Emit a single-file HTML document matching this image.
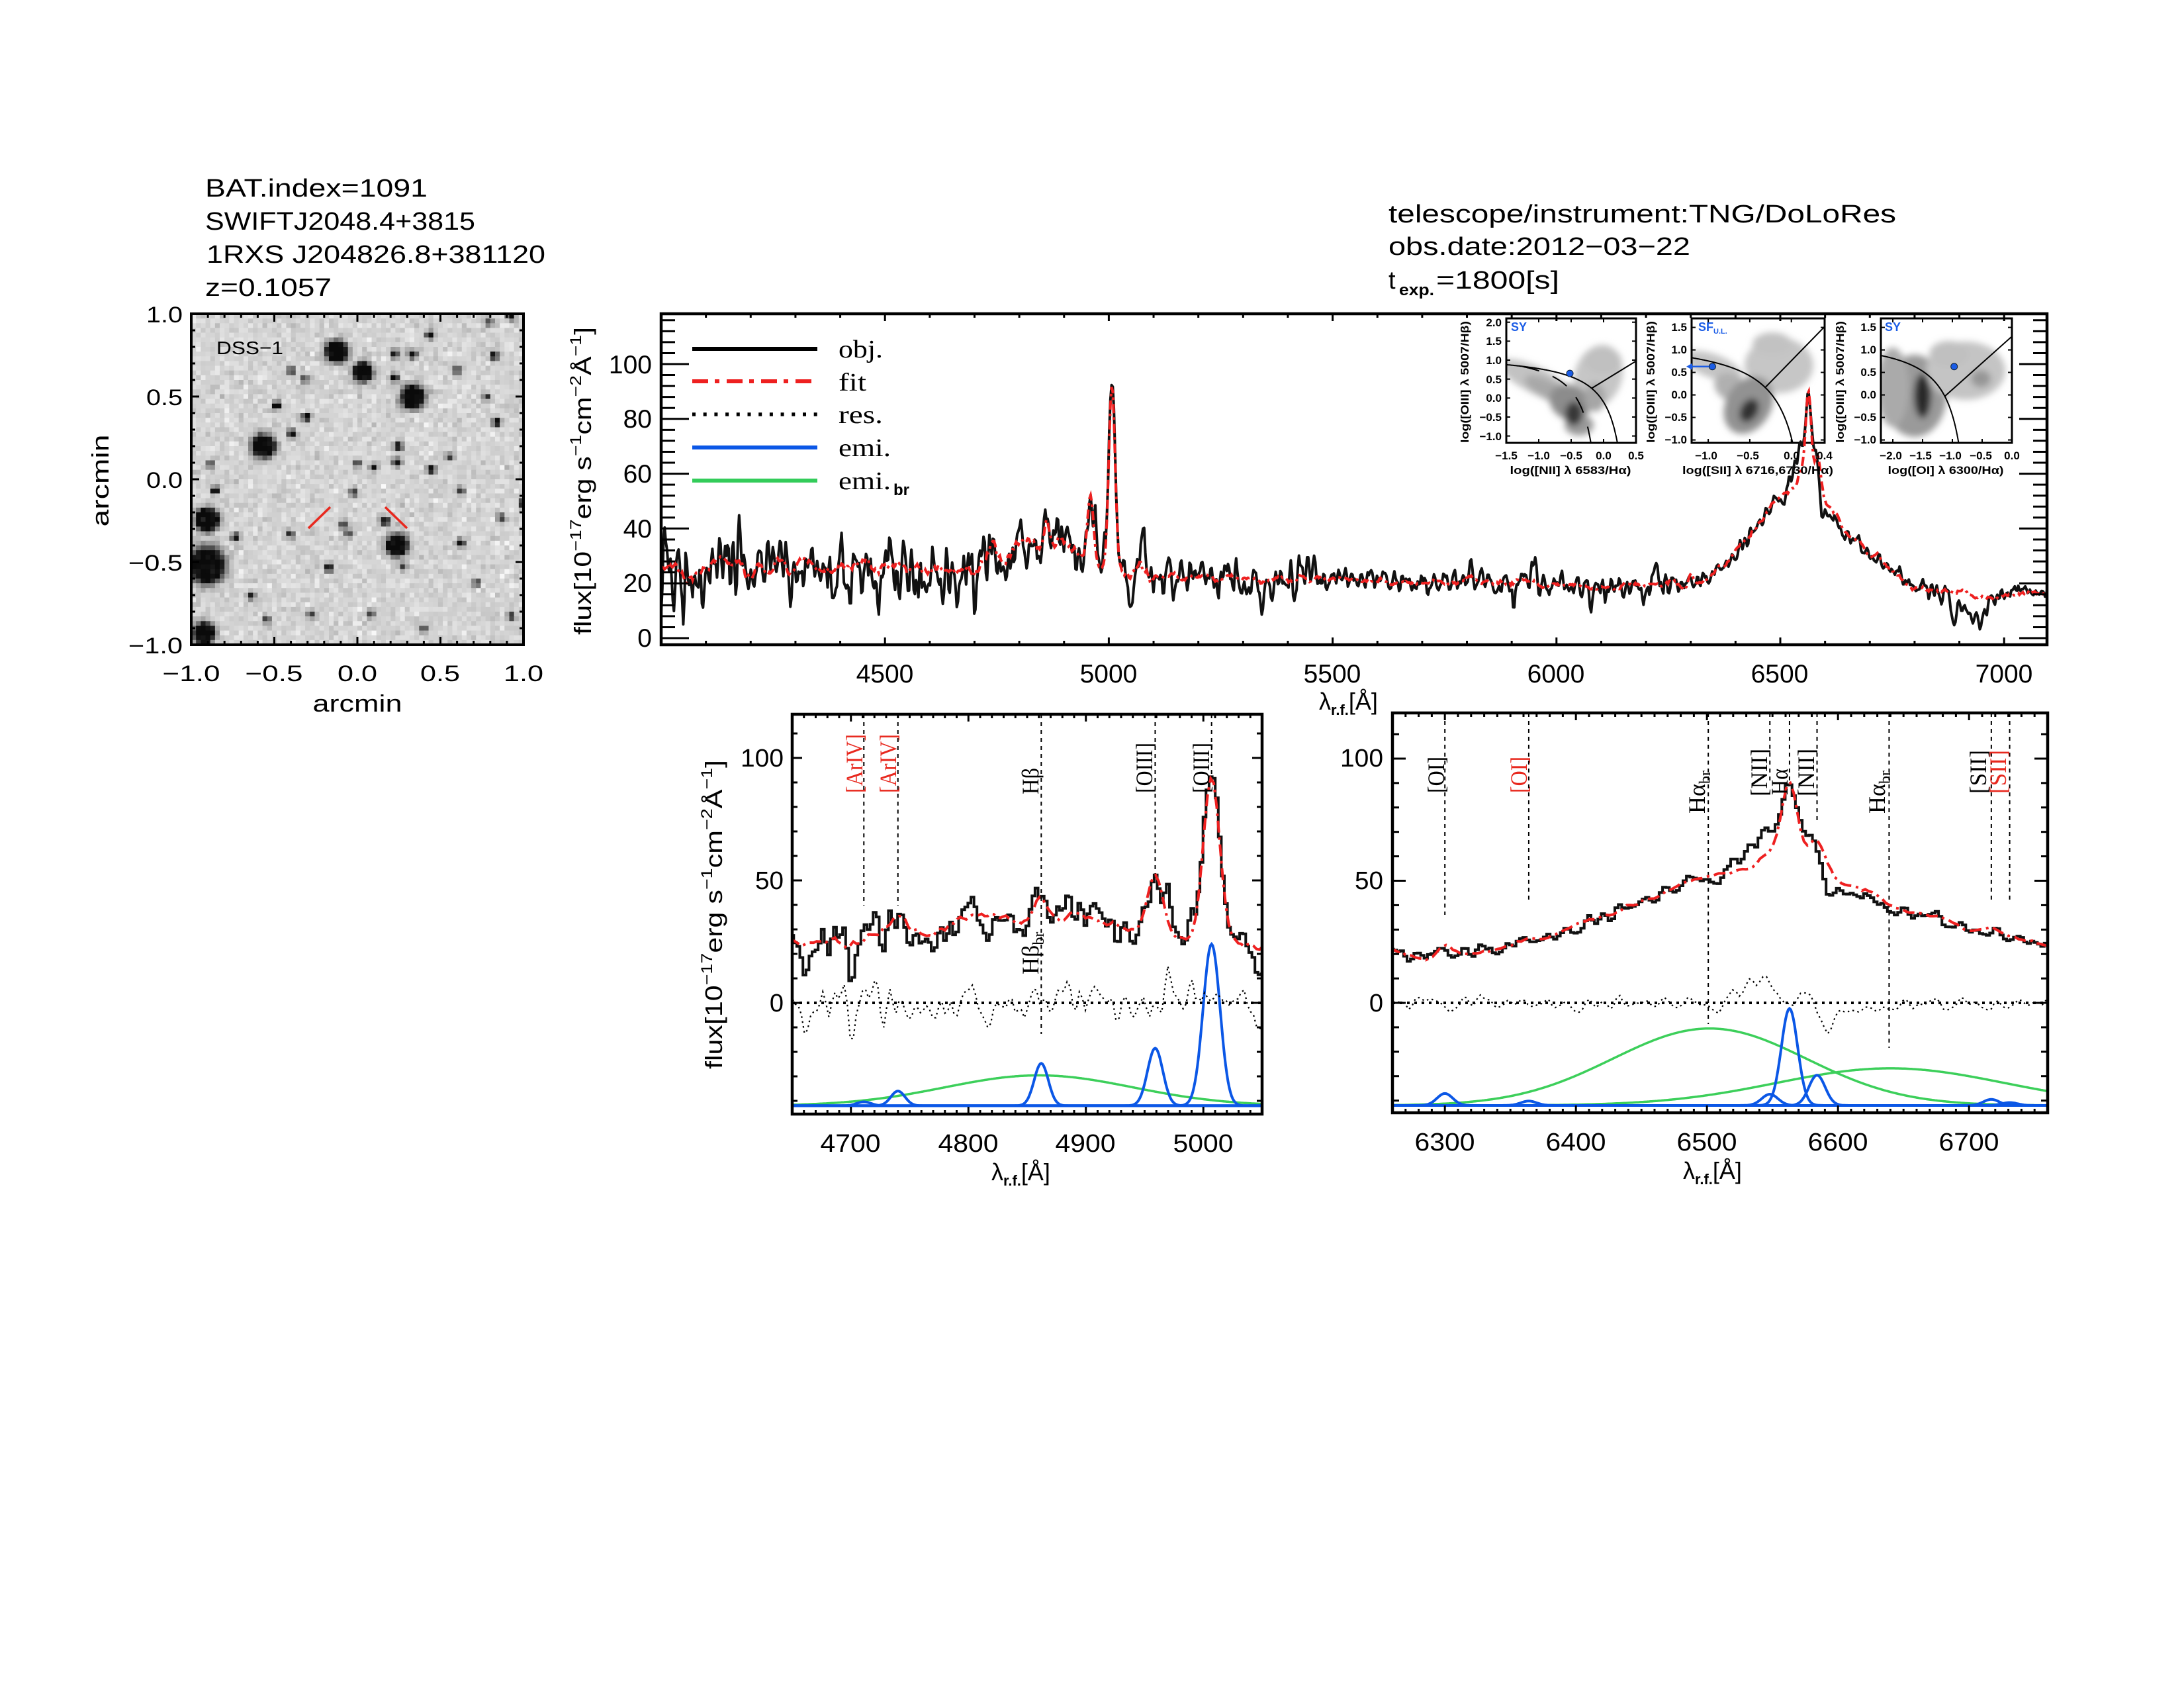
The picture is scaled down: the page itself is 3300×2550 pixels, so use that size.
<!DOCTYPE html>
<html><head><meta charset="utf-8">
<style>
html,body{margin:0;padding:0;background:#fff;}
svg{display:block;}
text{font-family:"Liberation Sans",sans-serif;fill:#000;}
text.sf,.sf text{font-family:"Liberation Serif",serif;}
.b{font-weight:bold;}
text.red,.sf text.red{fill:#e8281e;}
.blu{fill:#1a5ce6;}
</style></head><body>
<svg id="svg" xmlns="http://www.w3.org/2000/svg" width="3300" height="2550" viewBox="0 0 3300 2550">
<defs>
<clipPath id="cM"><rect x="999" y="474" width="2094" height="500"/></clipPath>
<clipPath id="cL"><rect x="1197" y="1079" width="710" height="604"/></clipPath>
<clipPath id="cR"><rect x="2104" y="1077" width="990" height="604"/></clipPath>
<clipPath id="cD"><rect x="289" y="474" width="502" height="500"/></clipPath>
<clipPath id="cI1"><rect x="2276" y="481" width="196" height="188"/></clipPath>
<clipPath id="cI2"><rect x="2556" y="481" width="201" height="188"/></clipPath>
<clipPath id="cI3"><rect x="2842" y="481" width="198" height="188"/></clipPath>
<filter id="bl" x="-50%" y="-50%" width="200%" height="200%"><feGaussianBlur stdDeviation="5"/></filter>
</defs>
<rect width="3300" height="2550" fill="#fff"/>
<g id="dyn"></g>
<g id="txt">
<text x="310" y="297" font-size="38" textLength="336" lengthAdjust="spacingAndGlyphs">BAT.index=1091</text>
<text x="310" y="347" font-size="38" textLength="408" lengthAdjust="spacingAndGlyphs">SWIFTJ2048.4+3815</text>
<text x="312" y="397" font-size="38" textLength="512" lengthAdjust="spacingAndGlyphs">1RXS J204826.8+381120</text>
<text x="310" y="447" font-size="38" textLength="191" lengthAdjust="spacingAndGlyphs">z=0.1057</text>
<text x="2098" y="336" font-size="38" textLength="767" lengthAdjust="spacingAndGlyphs">telescope/instrument:TNG/DoLoRes</text>
<text x="2098" y="385" font-size="38" textLength="456" lengthAdjust="spacingAndGlyphs">obs.date:2012−03−22</text>
<text x="2098" y="436" font-size="38">t</text>
<text x="2114" y="446" font-size="24" class="b" textLength="53" lengthAdjust="spacingAndGlyphs">exp.</text>
<text x="2170" y="436" font-size="38" textLength="186" lengthAdjust="spacingAndGlyphs">=1800[s]</text>

<text x="327" y="535" font-size="28" textLength="101" lengthAdjust="spacingAndGlyphs">DSS−1</text>
<text x="276" y="487" font-size="34" text-anchor="end" textLength="55" lengthAdjust="spacingAndGlyphs">1.0</text>
<text x="276" y="612" font-size="34" text-anchor="end" textLength="55" lengthAdjust="spacingAndGlyphs">0.5</text>
<text x="276" y="737" font-size="34" text-anchor="end" textLength="55" lengthAdjust="spacingAndGlyphs">0.0</text>
<text x="276" y="862" font-size="34" text-anchor="end" textLength="82" lengthAdjust="spacingAndGlyphs">−0.5</text>
<text x="276" y="987" font-size="34" text-anchor="end" textLength="82" lengthAdjust="spacingAndGlyphs">−1.0</text>
<text x="289" y="1029" font-size="34" text-anchor="middle" textLength="87" lengthAdjust="spacingAndGlyphs">−1.0</text>
<text x="414" y="1029" font-size="34" text-anchor="middle" textLength="87" lengthAdjust="spacingAndGlyphs">−0.5</text>
<text x="540" y="1029" font-size="34" text-anchor="middle" textLength="60" lengthAdjust="spacingAndGlyphs">0.0</text>
<text x="665" y="1029" font-size="34" text-anchor="middle" textLength="60" lengthAdjust="spacingAndGlyphs">0.5</text>
<text x="791" y="1029" font-size="34" text-anchor="middle" textLength="60" lengthAdjust="spacingAndGlyphs">1.0</text>
<text x="540" y="1075" font-size="36" text-anchor="middle" textLength="135" lengthAdjust="spacingAndGlyphs">arcmin</text>
<text transform="translate(164,726) rotate(-90)" font-size="36" text-anchor="middle" textLength="139" lengthAdjust="spacingAndGlyphs">arcmin</text>

<text transform="translate(893,959) rotate(-90)" font-size="36" textLength="465" lengthAdjust="spacingAndGlyphs">flux[10<tspan font-size="24" dy="-15">−17</tspan><tspan dy="15">erg s</tspan><tspan font-size="24" dy="-15">−1</tspan><tspan dy="15">cm</tspan><tspan font-size="24" dy="-15">−2</tspan><tspan dy="15">Å</tspan><tspan font-size="24" dy="-15">−1</tspan><tspan dy="15">]</tspan></text>
<text x="985" y="977" font-size="39" text-anchor="end">0</text>
<text x="985" y="894" font-size="39" text-anchor="end">20</text>
<text x="985" y="812" font-size="39" text-anchor="end">40</text>
<text x="985" y="729" font-size="39" text-anchor="end">60</text>
<text x="985" y="646" font-size="39" text-anchor="end">80</text>
<text x="985" y="564" font-size="39" text-anchor="end">100</text>
<text x="1337" y="1031" font-size="39" text-anchor="middle">4500</text>
<text x="1675" y="1031" font-size="39" text-anchor="middle">5000</text>
<text x="2013" y="1031" font-size="39" text-anchor="middle">5500</text>
<text x="2351" y="1031" font-size="39" text-anchor="middle">6000</text>
<text x="2689" y="1031" font-size="39" text-anchor="middle">6500</text>
<text x="3028" y="1031" font-size="39" text-anchor="middle">7000</text>
<text x="1993" y="1072" font-size="36">λ<tspan font-size="22" class="b" dy="8">r.f.</tspan><tspan dy="-8">[Å]</tspan></text>
<text x="1267" y="540" font-size="38" class="sf" textLength="67" lengthAdjust="spacingAndGlyphs">obj.</text>
<text x="1267" y="590" font-size="38" class="sf" textLength="42" lengthAdjust="spacingAndGlyphs">fit</text>
<text x="1267" y="639" font-size="38" class="sf" textLength="67" lengthAdjust="spacingAndGlyphs">res.</text>
<text x="1267" y="689" font-size="38" class="sf" textLength="79" lengthAdjust="spacingAndGlyphs">emi.</text>
<text x="1267" y="739" font-size="38" class="sf" textLength="79" lengthAdjust="spacingAndGlyphs">emi.</text>
<text x="1350" y="748" font-size="24" class="b">br</text>

<g font-size="17" class="b">
<text x="2283" y="500" class="b blu" font-size="18">SY</text>
<text x="2566" y="500" class="b blu" font-size="18">SF<tspan font-size="11" dy="4">U.L.</tspan></text>
<text x="2848" y="500" class="b blu" font-size="18">SY</text>
<text x="2269" y="493" text-anchor="end" class="b">2.0</text>
<text x="2269" y="521" text-anchor="end" class="b">1.5</text>
<text x="2269" y="550" text-anchor="end" class="b">1.0</text>
<text x="2269" y="579" text-anchor="end" class="b">0.5</text>
<text x="2269" y="607" text-anchor="end" class="b">0.0</text>
<text x="2269" y="636" text-anchor="end" class="b">−0.5</text>
<text x="2269" y="665" text-anchor="end" class="b">−1.0</text>
<text x="2276" y="694" text-anchor="middle" class="b">−1.5</text>
<text x="2325" y="694" text-anchor="middle" class="b">−1.0</text>
<text x="2374" y="694" text-anchor="middle" class="b">−0.5</text>
<text x="2423" y="694" text-anchor="middle" class="b">0.0</text>
<text x="2472" y="694" text-anchor="middle" class="b">0.5</text>
<text x="2373" y="716" text-anchor="middle" class="b" textLength="183" lengthAdjust="spacingAndGlyphs">log([NII] λ 6583/Hα)</text>
<text transform="translate(2219,669) rotate(-90)" class="b" textLength="184" lengthAdjust="spacingAndGlyphs">log([OIII] λ 5007/Hβ)</text>

<text x="2549" y="500" text-anchor="end" class="b">1.5</text>
<text x="2549" y="534" text-anchor="end" class="b">1.0</text>
<text x="2549" y="568" text-anchor="end" class="b">0.5</text>
<text x="2549" y="602" text-anchor="end" class="b">0.0</text>
<text x="2549" y="636" text-anchor="end" class="b">−0.5</text>
<text x="2549" y="670" text-anchor="end" class="b">−1.0</text>
<text x="2578" y="694" text-anchor="middle" class="b">−1.0</text>
<text x="2641" y="694" text-anchor="middle" class="b">−0.5</text>
<text x="2707" y="694" text-anchor="middle" class="b">0.0</text>
<text x="2757" y="694" text-anchor="middle" class="b">0.4</text>
<text x="2656" y="716" text-anchor="middle" class="b" textLength="228" lengthAdjust="spacingAndGlyphs">log([SII] λ 6716,6730/Hα)</text>
<text transform="translate(2500,669) rotate(-90)" class="b" textLength="184" lengthAdjust="spacingAndGlyphs">log([OIII] λ 5007/Hβ)</text>

<text x="2835" y="500" text-anchor="end" class="b">1.5</text>
<text x="2835" y="534" text-anchor="end" class="b">1.0</text>
<text x="2835" y="568" text-anchor="end" class="b">0.5</text>
<text x="2835" y="602" text-anchor="end" class="b">0.0</text>
<text x="2835" y="636" text-anchor="end" class="b">−0.5</text>
<text x="2835" y="670" text-anchor="end" class="b">−1.0</text>
<text x="2857" y="694" text-anchor="middle" class="b">−2.0</text>
<text x="2902" y="694" text-anchor="middle" class="b">−1.5</text>
<text x="2947" y="694" text-anchor="middle" class="b">−1.0</text>
<text x="2993" y="694" text-anchor="middle" class="b">−0.5</text>
<text x="3040" y="694" text-anchor="middle" class="b">0.0</text>
<text x="2940" y="716" text-anchor="middle" class="b" textLength="175" lengthAdjust="spacingAndGlyphs">log([OI] λ 6300/Hα)</text>
<text transform="translate(2786,669) rotate(-90)" class="b" textLength="184" lengthAdjust="spacingAndGlyphs">log([OIII] λ 5007/Hβ)</text>
</g>

<text transform="translate(1091,1615) rotate(-90)" font-size="36" textLength="467" lengthAdjust="spacingAndGlyphs">flux[10<tspan font-size="24" dy="-15">−17</tspan><tspan dy="15">erg s</tspan><tspan font-size="24" dy="-15">−1</tspan><tspan dy="15">cm</tspan><tspan font-size="24" dy="-15">−2</tspan><tspan dy="15">Å</tspan><tspan font-size="24" dy="-15">−1</tspan><tspan dy="15">]</tspan></text>
<text x="1184" y="1158" font-size="38" text-anchor="end" textLength="65" lengthAdjust="spacingAndGlyphs">100</text>
<text x="1184" y="1343" font-size="38" text-anchor="end" textLength="43" lengthAdjust="spacingAndGlyphs">50</text>
<text x="1184" y="1528" font-size="38" text-anchor="end">0</text>
<text x="1285" y="1740" font-size="38" text-anchor="middle" textLength="91" lengthAdjust="spacingAndGlyphs">4700</text>
<text x="1463" y="1740" font-size="38" text-anchor="middle" textLength="91" lengthAdjust="spacingAndGlyphs">4800</text>
<text x="1640" y="1740" font-size="38" text-anchor="middle" textLength="91" lengthAdjust="spacingAndGlyphs">4900</text>
<text x="1818" y="1740" font-size="38" text-anchor="middle" textLength="91" lengthAdjust="spacingAndGlyphs">5000</text>
<text x="1498" y="1783" font-size="36">λ<tspan font-size="22" class="b" dy="8">r.f.</tspan><tspan dy="-8">[Å]</tspan></text>
<g font-size="36">
<text transform="translate(1303,1198) rotate(-90)" class="sf red" textLength="89" lengthAdjust="spacingAndGlyphs">[ArIV]</text>
<text transform="translate(1354,1198) rotate(-90)" class="sf red" textLength="89" lengthAdjust="spacingAndGlyphs">[ArIV]</text>
<text transform="translate(1569,1200) rotate(-90)" class="sf" textLength="40" lengthAdjust="spacingAndGlyphs">Hβ</text>
<text transform="translate(1741,1198) rotate(-90)" class="sf" textLength="76" lengthAdjust="spacingAndGlyphs">[OIII]</text>
<text transform="translate(1827,1198) rotate(-90)" class="sf" textLength="76" lengthAdjust="spacingAndGlyphs">[OIII]</text>
<text transform="translate(1569,1472) rotate(-90)" class="sf">Hβ<tspan font-size="24" dy="8">br</tspan></text>
</g>

<text x="2090" y="1158" font-size="38" text-anchor="end" textLength="65" lengthAdjust="spacingAndGlyphs">100</text>
<text x="2090" y="1343" font-size="38" text-anchor="end" textLength="43" lengthAdjust="spacingAndGlyphs">50</text>
<text x="2090" y="1528" font-size="38" text-anchor="end">0</text>
<text x="2183" y="1738" font-size="38" text-anchor="middle" textLength="91" lengthAdjust="spacingAndGlyphs">6300</text>
<text x="2381" y="1738" font-size="38" text-anchor="middle" textLength="91" lengthAdjust="spacingAndGlyphs">6400</text>
<text x="2579" y="1738" font-size="38" text-anchor="middle" textLength="91" lengthAdjust="spacingAndGlyphs">6500</text>
<text x="2777" y="1738" font-size="38" text-anchor="middle" textLength="91" lengthAdjust="spacingAndGlyphs">6600</text>
<text x="2975" y="1738" font-size="38" text-anchor="middle" textLength="91" lengthAdjust="spacingAndGlyphs">6700</text>
<text x="2543" y="1781" font-size="36">λ<tspan font-size="22" class="b" dy="8">r.f.</tspan><tspan dy="-8">[Å]</tspan></text>
<g font-size="36">
<text transform="translate(2182,1198) rotate(-90)" class="sf" textLength="55" lengthAdjust="spacingAndGlyphs">[OI]</text>
<text transform="translate(2307,1198) rotate(-90)" class="sf red" textLength="55" lengthAdjust="spacingAndGlyphs">[OI]</text>
<text transform="translate(2576,1229) rotate(-90)" class="sf">Hα<tspan font-size="24" dy="8">br</tspan></text>
<text transform="translate(2670,1203) rotate(-90)" class="sf" textLength="72" lengthAdjust="spacingAndGlyphs">[NII]</text>
<text transform="translate(2701,1201) rotate(-90)" class="sf" textLength="40" lengthAdjust="spacingAndGlyphs">Hα</text>
<text transform="translate(2741,1203) rotate(-90)" class="sf" textLength="72" lengthAdjust="spacingAndGlyphs">[NII]</text>
<text transform="translate(2848,1229) rotate(-90)" class="sf">Hα<tspan font-size="24" dy="8">br</tspan></text>
<text transform="translate(3001,1199) rotate(-90)" class="sf" textLength="66" lengthAdjust="spacingAndGlyphs">[SII]</text>
<text transform="translate(3031,1199) rotate(-90)" class="sf red" textLength="66" lengthAdjust="spacingAndGlyphs">[SII]</text>
</g>
</g>
</svg>
<script>
(function(){
const NS="http://www.w3.org/2000/svg";
const D=document.getElementById('dyn');
function E(t,a,p){const e=document.createElementNS(NS,t);for(const k in a)e.setAttribute(k,a[k]);(p||D).appendChild(e);return e;}
let S=20240607;
function rnd(){S=(S+0x6D2B79F5)|0;let t=Math.imul(S^(S>>>15),1|S);t=(t+Math.imul(t^(t>>>7),61|t))^t;return((t^(t>>>14))>>>0)/4294967296;}
function gn(){let u=rnd();if(u<1e-9)u=1e-9;const v=rnd();return Math.sqrt(-2*Math.log(u))*Math.cos(6.283185307*v);}
function P(pts){let d='';for(let i=0;i<pts.length;i++){d+=(i?'L':'M')+pts[i][0].toFixed(1)+' '+pts[i][1].toFixed(1);}return d;}
function ln(x1,y1,x2,y2,p,w,c,da){const a={x1:x1,y1:y1,x2:x2,y2:y2,stroke:c||'#000','stroke-width':w||3};if(da)a['stroke-dasharray']=da;return E('line',a,p);}
function frame(x0,y0,x1,y1,w,p){E('rect',{x:x0,y:y0,width:x1-x0,height:y1-y0,fill:'none',stroke:'#000','stroke-width':w},p);}
function isM(v,m){const q=v/m;return Math.abs(q-Math.round(q))<1e-6;}
function xt(fx,a,b,st,mj,y0,y1,L1,L2,w){const n=Math.round((b-a)/st);for(let i=0;i<=n;i++){const v=a+i*st;const x=fx(v),L=isM(v,mj)?L1:L2;ln(x,y1,x,y1-L,null,w);ln(x,y0,x,y0+L,null,w);}}
function yt(fy,a,b,st,mj,x0,x1,L1,L2,w){const n=Math.round((b-a)/st);for(let i=0;i<=n;i++){const v=a+i*st;const y=fy(v),L=isM(v,mj)?L1:L2;ln(x0,y,x0+L,y,null,w);ln(x1,y,x1-L,y,null,w);}}
function ga(l,c,h,s){const d=(l-c)/s;return h*Math.exp(-0.5*d*d);}

/* DSS image */
const gD=E('g',{'clip-path':'url(#cD)'});
const stars=[[509,531,17],[548,562,15],[624,600,18],[398,674,18],[600,824,17],[313,785,18],[312,854,28],[308,957,17],
[596,571,8],[596,535,7],[623,535,8],[650,506,7],[747,538,8],[750,638,8],[739,487,6],[772,478,7],[418,613,7],[463,630,8],[441,655,8],[461,573,5],[602,674,8],[600,698,7],[565,706,6],[652,709,7],[325,741,8],[356,812,8],[582,787,9],[696,820,8],[439,806,6],[519,793,5],[526,806,5],[497,858,7],[609,855,6],[790,760,8],[534,744,4],[696,741,4],[758,782,4],[403,936,4],[470,928,4],[561,928,4],[772,931,4],[318,701,4],[540,700,3],[680,690,3],[440,560,4],[690,560,3],[735,600,4],[640,950,4],[380,900,3],[720,880,4]];
const NC=70,dx0=289,dy0=474,cw=502/NC,chh=500/NC;
for(let j=0;j<NC;j++)for(let i=0;i<NC;i++){
  const cx=dx0+(i+0.5)*cw,cy=dy0+(j+0.5)*chh;let d=0;
  for(const st of stars){const ddx=cx-st[0],ddy=cy-st[1];const r=st[2];const sg=Math.max(3.8,r/2.1);const A=r>=15?5:(r>=7?1.5:0.9);d+=A*Math.exp(-(ddx*ddx+ddy*ddy)/(2*sg*sg));}
  d=Math.min(1,d);
  let v=212+gn()*11-200*Math.pow(d,0.8);
  v=Math.max(10,Math.min(250,Math.round(v)));
  E('rect',{x:(dx0+i*cw).toFixed(2),y:(dy0+j*chh).toFixed(2),width:(cw+0.7).toFixed(2),height:(chh+0.7).toFixed(2),fill:'rgb('+v+','+v+','+v+')'},gD);
}
ln(466,798,499,766,null,3.5,'#e8281e');ln(582,766,615,798,null,3.5,'#e8281e');
frame(289,474,791,974,4);
const DX=a=>289+(a+1)*251,DY=a=>474+(1-a)*250;
xt(DX,-1,1,0.1,0.5,474,974,12,6,3);
yt(DY,-1,1,0.1,0.5,289,791,12,6,3);

/* Insets */
function inset(clip,blobs){
  const g=E('g',{'clip-path':'url(#'+clip+')'});
  const gb=E('g',{filter:'url(#bl)'},g);
  for(const b of blobs){E('ellipse',{cx:b[0],cy:b[1],rx:b[2],ry:b[3],fill:b[5],transform:'rotate('+b[4]+' '+b[0]+' '+b[1]+')'},gb);}
  return g;
}
const I1X=x=>2276+(x+1.5)*98,I1Y=y=>481+(2.1-y)*57.3;
const g1=inset('cI1',[[2322,575,62,20,26,'#c2c2c2'],[2415,568,36,48,18,'#c6c6c6'],[2422,545,28,20,0,'#c0c0c0'],[2340,590,40,14,28,'#a8a8a8'],[2372,608,32,26,30,'#8c8c8c'],[2386,642,22,16,0,'#9a9a9a'],[2410,600,16,22,0,'#a6a6a6'],[2378,625,13,18,0,'#383838']]);
{let pk=[],pf=[];for(let x=-1.5;x<0.47;x+=0.005){const y=0.61/(x-0.47)+1.19;pk.push([I1X(x),I1Y(y)]);if(y<-1.4)break;}
 for(let x=-1.25;x<0.05;x+=0.005){const y=0.61/(x-0.05)+1.3;pf.push([I1X(x),I1Y(y)]);if(y<-1.4)break;}
 E('path',{d:P(pk),fill:'none',stroke:'#000','stroke-width':2},g1);
 E('path',{d:P(pf),fill:'none',stroke:'#000','stroke-width':2,'stroke-dasharray':'26,22'},g1);
 ln(I1X(-0.18),I1Y(1.05*-0.18+0.45),I1X(0.5),I1Y(1.05*0.5+0.45),g1,2);
 E('circle',{cx:I1X(-0.52),cy:I1Y(0.65),r:5,fill:'#1a5ce6',stroke:'#123',"stroke-width":1},g1);}
frame(2276,481,2472,669,3);
const I2X=x=>2556+(x+1.2)*125.6,I2Y=y=>481+(1.7-y)*68;
const g2=inset('cI2',[[2588,553,46,18,20,'#c4c4c4'],[2688,552,52,42,0,'#c6c6c6'],[2678,520,30,18,0,'#c2c2c2'],[2615,585,26,20,30,'#b0b0b0'],[2642,612,34,46,30,'#929292'],[2643,620,13,19,30,'#333']]);
{let pk=[];for(let x=-1.25;x<0.32;x+=0.005){const y=0.72/(x-0.32)+1.30;pk.push([I2X(x),I2Y(y)]);if(y<-1.3)break;}
 E('path',{d:P(pk),fill:'none',stroke:'#000','stroke-width':2},g2);
 ln(I2X(-0.32),I2Y(1.89*-0.32+0.76),I2X(0.45),I2Y(1.89*0.45+0.76),g2,2);}
frame(2556,481,2757,669,3);
ln(I2X(-0.95),I2Y(0.63),2556,I2Y(0.63),null,2.5,'#1a5ce6');
E('path',{d:'M2548 '+I2Y(0.63)+' l9 -5 l0 10 z',fill:'#1a5ce6'});
E('circle',{cx:I2X(-0.95),cy:I2Y(0.63),r:5,fill:'#1a5ce6',stroke:'#123','stroke-width':1});
const I3X=x=>2842+(x+2.2)*90,I3Y=y=>481+(1.7-y)*68;
const g3=inset('cI3',[[2893,598,48,62,0,'#9a9a9a'],[2860,585,24,60,0,'#aaaaaa'],[2970,560,60,44,0,'#c4c4c4'],[2945,535,30,20,0,'#c0c0c0'],[2993,572,15,13,0,'#969696'],[2905,598,13,34,0,'#2a2a2a']]);
{let pk=[];for(let x=-2.25;x<-0.59;x+=0.005){const y=0.73/(x+0.59)+1.33;pk.push([I3X(x),I3Y(y)]);if(y<-1.3)break;}
 E('path',{d:P(pk),fill:'none',stroke:'#000','stroke-width':2},g3);
 ln(I3X(-1.13),I3Y(1.18*-1.13+1.30),I3X(0),I3Y(1.30),g3,2);
 E('circle',{cx:I3X(-0.97),cy:I3Y(0.63),r:5,fill:'#1a5ce6',stroke:'#123','stroke-width':1},g3);}
frame(2842,481,3040,669,3);
[[I1X,-1.5,0.5,I1Y,-1,2,2276,2472],[I2X,-1,0.4,I2Y,-1,1.5,2556,2757],[I3X,-2,0,I3Y,-1,1.5,2842,3040]].forEach(q=>{
  for(let v=q[1];v<=q[2]+1e-6;v+=0.5){const x=q[0](v);ln(x,669,x,663,null,2);ln(x,481,x,487,null,2);}
  for(let v=q[4];v<=q[5]+1e-6;v+=0.5){const y=q[3](v);ln(q[6],y,q[6]+6,y,null,2);ln(q[7],y,q[7]-6,y,null,2);}
});

/* Spectrum model */
const cp=[[3900,26],[4000,26],[4100,25],[4200,26],[4300,27],[4400,27],[4500,26],[4600,25],[4650,25],[4700,25.5],[4740,26],[4770,28],[4800,31.5],[4830,34.5],[4862,36.5],[4900,35.5],[4930,31.5],[4945,30],[4970,27.5],[4990,25.5],[5010,25],[5030,24],[5050,23],[5100,23],[5200,22.5],[5300,22],[5400,22],[5500,21.5],[5600,21],[5700,20.5],[5800,20.5],[5900,20],[6000,19.5],[6100,19],[6200,18.5],[6260,19.5],[6300,19.5],[6330,21],[6364,24.5],[6400,31],[6450,40.8],[6500,50.5],[6530,54.5],[6550,56.5],[6565,56.5],[6584,53],[6600,50],[6640,41.4],[6700,31],[6760,22.4],[6800,19],[6850,17.5],[6900,16.5],[7000,16],[7250,16]];
function lin(l){for(let i=1;i<cp.length;i++){if(l<=cp[i][0]){const a=cp[i-1],b=cp[i];return a[1]+(b[1]-a[1])*(l-a[0])/(b[0]-a[0]);}}return cp[cp.length-1][1];}
const Bg=[];for(let l=3900;l<=7250;l++)Bg.push(lin(l));
const Bs=[];for(let i=0;i<Bg.length;i++){let s=0,n=0;for(let k=-8;k<=8;k++){const j=i+k;if(j>=0&&j<Bg.length){s+=Bg[j];n++;}}Bs.push(s/n);}
function Bf(l){const f=l-3900;const i=Math.floor(f),t=f-i;const a=Bs[Math.max(0,Math.min(Bs.length-1,i))],b=Bs[Math.max(0,Math.min(Bs.length-1,i+1))];return a+(b-a)*t;}
const NF=[[4711,1.5,6],[4740,6,6],[4862,10,6],[4959,24,6.5],[5007,68,7],[6300,4.9,6],[6364,1.8,6],[6548,4.6,6.2],[6563,34,6.2],[6584,12.4,6.2],[6717,2.5,6],[6731,1.2,6]];
const DV=[[4008,12,6],[4050,-18,3],[4665,-6,3],[4680,10,3],[4700,-4,3],[4722,8,3],[5048,-9,4],[5075,6,3],[6200,-5,5],[6538,10,10],[6575,5,5],[6593,-11,5],[6620,-4,15]];
function dev(l){let d=0;for(const q of DV)d+=ga(l,q[0],q[1],q[2]);
  if(l>6872&&l<=6886)d-=13*(l-6872)/14;else if(l>6886&&l<=6900)d-=13-6*(l-6886)/14;else if(l>6900&&l<=6955)d-=7;else if(l>6955&&l<6966)d-=7*(6966-l)/11;
  return d;}
function amp(l){return l<4100?8:l<4750?5.6:l<5100?5:l<5450?3.5:l<6250?2.5:1.7;}
const L=[],F=[],O=[];
const NP=Math.floor((7100-4000)/2.6)+2;
const w0=[],n0=[];for(let i=0;i<NP+10;i++){w0.push(gn());n0.push(gn());}
for(let i=0;i<NP;i++){
  const l=4000+2.6*i;L.push(l);
  let wsum=0;for(let k=-4;k<=4;k++){const j=Math.min(NP+9,Math.max(0,i+k));wsum+=w0[j];}
  let wig=wsum/9*3*(l<5100?1.8:0.8);
  if(Math.abs(l-5007)<20||Math.abs(l-4959)<15)wig*=0.3;
  let f=Bf(l)+wig;for(const q of NF)f+=ga(l,q[0],q[1],q[2]);
  const nm=Math.max(0,i-1),np=i+1;
  let sm=(n0[nm]+2*n0[i]+n0[np])/4*1.6*amp(l);
  if(Math.abs(l-5007)<12)sm=Math.abs(sm)*0.5;
  F.push(f);O.push(f+sm+dev(l));
}

/* Main plot */
const MX=l=>999+(l-4000)*0.6764,MY=v=>964-4.14*v;
const gM=E('g',{'clip-path':'url(#cM)'});
{const pb=[],pr=[];for(let i=0;i<NP;i++){pb.push([MX(L[i]),MY(O[i])]);pr.push([MX(L[i]),MY(F[i])]);}
 E('path',{d:P(pb),fill:'none',stroke:'#111','stroke-width':4,'stroke-linejoin':'round'},gM);
 E('path',{d:P(pr),fill:'none',stroke:'#ee2020','stroke-width':4,'stroke-dasharray':'14,6,4,6'},gM);}
frame(999,474,3093,974,4.5);
xt(MX,4000,7000,100,500,474,974,11,6,3);
yt(MY,0,116,4,20,999,3093,42,21,3);
ln(1046,527,1235,527,null,6,'#000');
ln(1046,576,1235,576,null,6,'#ee2020','24,10,7,11');
ln(1046,626,1235,626,null,5.5,'#000','5,11.7');
ln(1046,676,1235,676,null,6,'#0b57e6');
ln(1046,726,1235,726,null,6,'#33cc5a');

/* Bottom panels */
function panel(cfg){
  const {fx,fy,lo,hi,x0,x1,y0,y1,clip,blue,green,vlines}=cfg;
  const g=E('g',{'clip-path':'url(#'+clip+')'});
  for(const v of vlines)ln(fx(v[0]),y0,fx(v[0]),v[1],g,2,'#000','6,6');
  ln(x0,fy(0),x1,fy(0),g,4,'#000','4,7');
  for(const q of green){const pts=[];for(let l=lo-5;l<=hi+5;l+=1)pts.push([fx(l),fy(-42+ga(l,q[0],q[1],q[2]))]);E('path',{d:P(pts),fill:'none',stroke:'#3ccf5a','stroke-width':3.5},g);}
  for(const q of blue){const pts=[];for(let l=lo-5;l<=hi+5;l+=1)pts.push([fx(l),fy(-42+ga(l,q[0],q[1],q[2]))]);E('path',{d:P(pts),fill:'none',stroke:'#0b57e6','stroke-width':4},g);}
  {const pts=[];for(let i=0;i<NP;i++){if(L[i]<lo-5||L[i]>hi+5)continue;pts.push([fx(L[i]),fy(O[i]-F[i])]);}
   E('path',{d:P(pts),fill:'none',stroke:'#000','stroke-width':2.2,'stroke-dasharray':'2.5,5'},g);}
  {let d='',first=true;for(let i=0;i<NP;i++){if(L[i]<lo-5||L[i]>hi+5)continue;const xa=fx(L[i]-1.3),xb=fx(L[i]+1.3),y=fy(O[i]);d+=(first?'M':'L')+xa.toFixed(1)+' '+y.toFixed(1)+'L'+xb.toFixed(1)+' '+y.toFixed(1);first=false;}
   E('path',{d:d,fill:'none',stroke:'#111','stroke-width':4,'stroke-linejoin':'miter'},g);}
  {const pts=[];for(let i=0;i<NP;i++){if(L[i]<lo-5||L[i]>hi+5)continue;pts.push([fx(L[i]),fy(F[i])]);}
   E('path',{d:P(pts),fill:'none',stroke:'#ee2020','stroke-width':4,'stroke-dasharray':'18,7,4,7'},g);}
  frame(x0,y0,x1,y1,4.5);
}
const LX=l=>1197+(l-4650)*1.775,LY=v=>1515-3.70*v;
panel({fx:LX,fy:LY,lo:4650,hi:5050,x0:1197,x1:1907,y0:1079,y1:1683,clip:'cL',
  blue:[[4711,1.6,6],[4740,6,6],[4862,17.3,6],[4959,23.5,6.5],[5007,66,7.2]],
  green:[[4860,12.4,80]],
  vlines:[[4711,1368],[4740,1368],[4862,1562],[4959,1330],[5007,1180]]});
xt(LX,4650,5050,10,100,1079,1683,11,6,3);
yt(LY,-40,110,10,50,1197,1907,15,8,3);
const RX=l=>2104+(l-6260)*1.98,RY=v=>1515-3.69*v;
panel({fx:RX,fy:RY,lo:6260,hi:6760,x0:2104,x1:3094,y0:1077,y1:1681,clip:'cR',
  blue:[[6300,4.9,6],[6364,1.8,6],[6548,4.6,6.2],[6563,39.7,6.2],[6584,12.4,6.2],[6717,2.5,6],[6731,1.2,6]],
  green:[[6502,31.5,74],[6640,15.2,87]],
  vlines:[[6300,1382],[6364,1363],[6501,1547],[6548,1183],[6563,1180],[6584,1240],[6639,1583],[6717,1365],[6731,1365]]});
xt(RX,6260,6760,10,100,1077,1681,11,6,3);
yt(RY,-40,110,10,50,2104,3094,20,10,3);
})();
</script>
</body></html>
